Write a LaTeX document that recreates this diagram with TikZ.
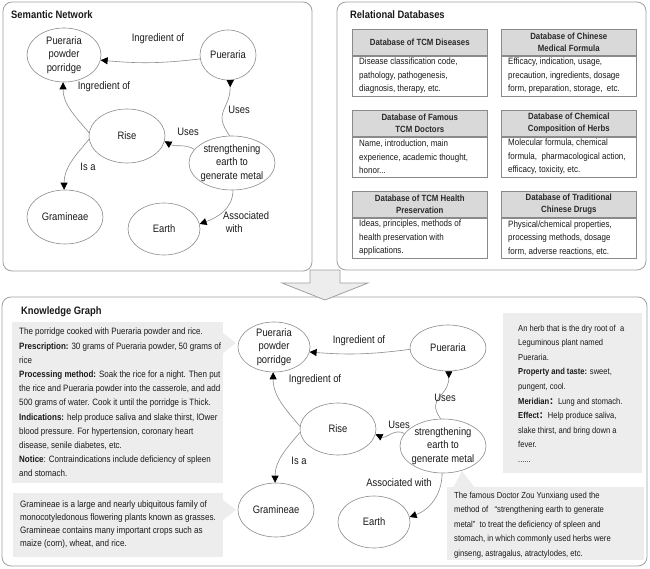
\documentclass[tikz,border=0pt]{standalone}
\usepackage{fontspec}
\setmainfont{Liberation Sans}[FakeStretch=0.87]
\newfontfamily\cjkfont{Noto Sans CJK SC}
\usetikzlibrary{shapes.geometric,arrows.meta}
\definecolor{panelc}{HTML}{A0A0A0}
\definecolor{ellc}{HTML}{8C8C8C}
\definecolor{edgec}{HTML}{8C8C8C}
\definecolor{boxc}{HTML}{8A8A8A}
\definecolor{hdrc}{HTML}{D9D9D9}
\definecolor{kgc}{HTML}{EDEDED}
\definecolor{txtc}{HTML}{1A1A1A}
\definecolor{hdrtxt}{HTML}{2A2A2A}
\newcommand\nfont{\fontsize{10.8}{13.5}\selectfont}
\newcommand\tfont{\bfseries\fontsize{10.8}{13}\selectfont}
\newcommand\hfont{\bfseries\fontsize{9}{12.5}\selectfont}
\newcommand\sfont{\fontsize{9.2}{13.5}\selectfont}
\newcommand\fwc{{\cjkfont ：}}
\tikzset{
  panel/.style={draw=panelc, line width=0.8pt, rounded corners=9pt, fill=white},
  title/.style={font=\tfont, inner sep=0pt, text=txtc, anchor=west},
  ell/.style 2 args={ellipse, draw=ellc, line width=0.6pt, fill=white, minimum width=#1, minimum height=#2, inner sep=0pt},
  ntxt/.style={font=\nfont, align=center, text=txtc, inner sep=0pt},
  elab/.style={font=\nfont, text=txtc, inner sep=0pt},
  edge/.style={draw=edgec, line width=0.6pt, -{Triangle[length=7pt,width=7pt,color=black]}},
  revedge/.style={draw=edgec, line width=0.6pt, -{Triangle[reversed,length=7pt,width=7pt,color=black]}},
  hdr/.style={draw=boxc, fill=hdrc, line width=0.6pt, minimum width=135, minimum height=26, inner sep=0pt, anchor=north west, font=\hfont, align=center, text=hdrtxt},
  bdy/.style={draw=boxc, fill=white, line width=0.6pt, minimum width=135, minimum height=40, inner sep=0pt, anchor=north west},
  btxt/.style={font=\sfont, align=left, inner sep=0pt, anchor=west, text=txtc},
  kgtxt/.style={align=left, inner sep=0pt, anchor=north west, text=txtc},
  kgbox/.style={fill=kgc},
  blockarr/.style={draw=panelc, line width=0.8pt, fill=kgc, line join=miter}
}
\begin{document}
\begin{tikzpicture}[x=1pt,y=1pt]
\useasboundingbox (0,0) rectangle (650,-569);
\fill[white] (0,0) rectangle (650,-569);

% ---------- panels ----------
\draw[panel] (3,-2) rectangle (312,-271);
\draw[panel] (337,-2) rectangle (646,-270);
\draw[panel] (2,-297) rectangle (647,-566);
\draw[blockarr] (310,-270) -- (340,-270) -- (340,-283) -- (368,-283) -- (325,-300) -- (282,-283) -- (310,-283) -- cycle;

\node[title] (tsn) at (11,-15) {Semantic Network};
\node[title] (trd) at (350,-15) {Relational Databases};
\node[title] (tkg) at (21,-312) {Knowledge Graph};

% ---------- semantic network ----------
\node[ell={74}{54}, label={[ntxt]center:{Pueraria\\powder\\porridge}}] (ppp1) at (64,-55) {};
\node[ell={56}{50}, label={[ntxt]center:{Pueraria}}] (pu1) at (228,-55) {};
\node[ell={76}{54}, label={[ntxt]center:{Rise}}] (rise1) at (127,-136) {};
\node[ell={86}{54}, label={[ntxt]center:{strengthening\\earth to\\generate metal}}] (str1) at (232,-163) {};
\node[ell={76}{54}, label={[ntxt]center:{Gramineae}}] (gram1) at (65,-217) {};
\node[ell={72}{52}, label={[ntxt]center:{Earth}}] (earth1) at (164,-229) {};

\draw[edge] (pu1.188) to[bend left=6] (ppp1.-8);
\draw[edge] (rise1.175) to[out=130,in=-90] (ppp1.-92);
\draw[edge] (rise1.185) to[out=-130,in=90] (gram1.92);
\draw[edge] (str1.160) to[out=150,in=-30] (rise1.-8);
\draw[revedge] (str1.95) to[out=125,in=-90,looseness=1.4] (pu1.-85);
\draw[edge] (str1.-88) to[out=-90,in=20] (earth1.8);

\node[elab] (l1) at (158,-39) {Ingredient of};
\node[elab] (l2) at (104,-87) {Ingredient of};
\node[elab] (l3) at (239,-110) {Uses};
\node[elab] (l4) at (188,-132) {Uses};
\node[elab] (l5) at (88,-167) {Is a};
\node[elab, align=left, anchor=west] (l6) at (223,-222) {Associated\\\ with};

% ---------- relational databases ----------
\node[hdr] (h1) at (352,-29) {Database of TCM Diseases};
\node[bdy] (b1) at (h1.south west) {};
\node[btxt] (x1) at ([xshift=7pt]b1.west) {Disease classification code,\\pathology, pathogenesis,\\diagnosis, therapy, etc.};

\node[hdr] (h2) at (501,-29) {Database of Chinese\\Medical Formula};
\node[bdy] (b2) at (h2.south west) {};
\node[btxt] (x2) at ([xshift=7pt]b2.west) {Efficacy, indication, usage,\\precaution, ingredients, dosage\\form, preparation, storage,\ \ etc.};

\node[hdr] (h3) at (352,-110) {Database of Famous\\TCM Doctors};
\node[bdy] (b3) at (h3.south west) {};
\node[btxt] (x3) at ([xshift=7pt]b3.west) {Name, introduction, main\\experience, academic thought,\\honor...};

\node[hdr] (h4) at (501,-110) {Database of Chemical\\Composition of Herbs};
\node[bdy] (b4) at (h4.south west) {};
\node[btxt] (x4) at ([xshift=7pt]b4.west) {Molecular formula, chemical\\formula,\ \ pharmacological action,\\efficacy, toxicity, etc.};

\node[hdr] (h5) at (352,-191) {Database of TCM Health\\Preservation};
\node[bdy] (b5) at (h5.south west) {};
\node[btxt] (x5) at ([xshift=7pt]b5.west) {Ideas, principles, methods of\\health preservation with\\applications.};

\node[hdr] (h6) at (501,-191) {Database of Traditional\\Chinese Drugs};
\node[bdy] (b6) at (h6.south west) {};
\node[btxt] (x6) at ([xshift=7pt]b6.west) {Physical/chemical properties,\\processing methods, dosage\\form, adverse reactions, etc.};

% ---------- knowledge graph: description boxes ----------
\fill[kgbox] (12,-322) rectangle (223,-483);
\fill[kgbox] (223,-333) -- (236,-343) -- (223,-353) -- cycle;
\fill[kgbox] (13,-493) rectangle (223,-557);
\fill[kgbox] (223,-500) -- (236,-510) -- (223,-520) -- cycle;
\fill[kgbox] (503,-313) rectangle (642,-473);
\fill[kgbox] (447,-487) rectangle (644,-560);
\fill[kgbox] (453,-488) -- (462,-471) -- (475,-488) -- cycle;

\node[kgtxt, font=\fontsize{9.2}{14.2}\selectfont] (d1) at (19,-328) {The porridge cooked with Pueraria powder and rice.\\
\textbf{Prescription:} 30 grams of Pueraria powder, 50 grams of\\
rice\\
\textbf{Processing method:} Soak the rice for a night. Then put\\
the rice and Pueraria powder into the casserole, and add\\
500 grams of water. Cook it until the porridge is Thick.\\
\textbf{Indications:} help produce saliva and slake thirst, lOwer\\
blood pressure. For hypertension, coronary heart\\
disease, senile diabetes, etc.\\
\textbf{Notice}: Contraindications include deficiency of spleen\\
and stomach.};

\node[kgtxt, font=\fontsize{9.3}{12.8}\selectfont] (d2) at (20,-501) {Gramineae is a large and nearly ubiquitous family of\\
monocotyledonous flowering plants known as grasses.\\
Gramineae contains many important crops such as\\
maize (corn), wheat, and rice.};

\node[kgtxt, font=\fontsize{8.7}{14.6}\selectfont] (d3) at (518,-324.5) {An herb that is the dry root of\ \ a\\
Leguminous plant named\\
Pueraria.\\
\textbf{Property and taste:} sweet,\\
pungent, cool.\\
\textbf{Meridian\fwc}Lung and stomach.\\
\textbf{Effect\fwc}Help produce saliva,\\
slake thirst, and bring down a\\
fever.\\
......};

\node[kgtxt, font=\fontsize{8.8}{14.5}\selectfont] (d4) at (454,-491.5) {The famous Doctor Zou Yunxiang used the\\
method of\ \ \ “strengthening earth to generate\\
metal”\ \ to treat the deficiency of spleen and\\
stomach, in which commonly used herbs were\\
ginseng, astragalus, atractylodes, etc.};

% ---------- knowledge graph: nodes ----------
\node[ell={72}{50}, label={[ntxt]center:{Pueraria\\powder\\porridge}}] (ppp2) at (274,-347) {};
\node[ell={76}{46}, label={[ntxt]center:{Pueraria}}] (pu2) at (448,-348) {};
\node[ell={76}{52}, label={[ntxt]center:{Rise}}] (rise2) at (338,-429) {};
\node[ell={86}{54}, label={[ntxt]center:{strengthening\\earth to\\generate metal}}] (str2) at (443,-446) {};
\node[ell={76}{54}, label={[ntxt]center:{Gramineae}}] (gram2) at (276,-510) {};
\node[ell={72}{52}, label={[ntxt]center:{Earth}}] (earth2) at (374,-522) {};

\draw[edge] (pu2.182) to[bend left=6] (ppp2.-8);
\draw[edge] (rise2.176) to[out=130,in=-90] (ppp2.-92);
\draw[edge] (rise2.185) to[out=-130,in=90] (gram2.92);
\draw[edge] (str2.162) to[out=150,in=-25] (rise2.-8);
\draw[revedge] (str2.95) to[out=125,in=-90,looseness=1.4] (pu2.-88);
\draw[edge] (str2.-92) to[out=-90,in=20] (earth2.8);

\node[elab] (k1) at (359,-341) {Ingredient of};
\node[elab] (k2) at (315,-380) {Ingredient of};
\node[elab] (k3) at (445,-398) {Uses};
\node[elab] (k4) at (399,-425) {Uses};
\node[elab] (k5) at (299,-461) {Is a};
\node[elab] (k6) at (399,-483) {Associated with};
\end{tikzpicture}
\end{document}
